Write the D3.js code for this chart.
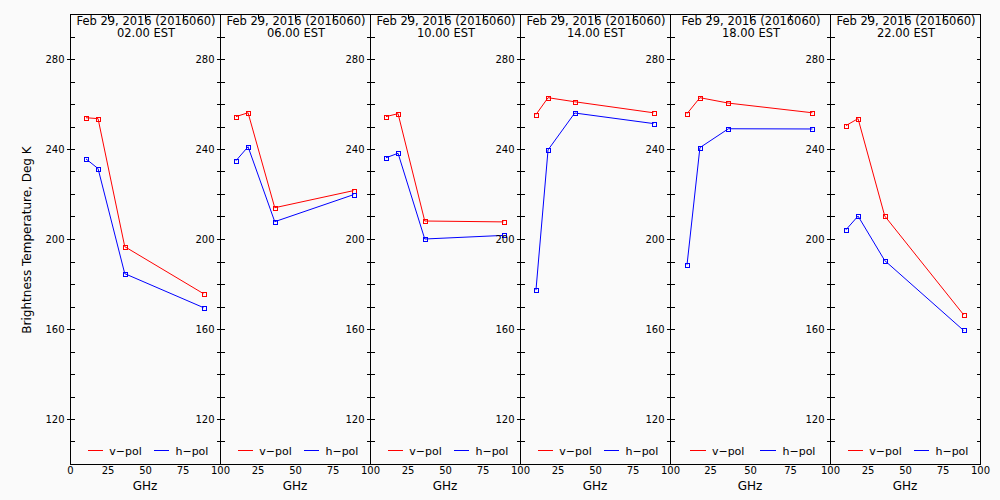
<!DOCTYPE html>
<html><head><meta charset="utf-8">
<script src="https://cdn.jsdelivr.net/npm/d3@7"></script>
<style>
html,body{margin:0;padding:0;background:#fafafa;}
svg{display:block;}
text{font-family:"DejaVu Sans",sans-serif;fill:#000;}
</style></head>
<body><svg id="c" width="1000" height="500"></svg>
<script>
// ---- data ----
const freqs = [10.65, 18.7, 36.5, 89.0];
const dateLabel = "Feb 29, 2016 (2016060)";
const times = ["02.00 EST", "06.00 EST", "10.00 EST", "14.00 EST", "18.00 EST", "22.00 EST"];
const vpol = [
  [253.9, 253.5, 196.6, 175.7],
  [254.4, 256.1, 213.9, 221.5],
  [254.4, 255.7, 208.0, 207.6],
  [255.3, 262.8, 261.0, 256.1],
  [255.7, 262.8, 260.4, 256.1],
  [250.4, 253.5, 210.2, 166.4]
];
const hpol = [
  [235.6, 231.3, 184.6, 169.5],
  [234.8, 241.0, 207.7, 219.7],
  [236.1, 238.1, 200.0, 201.6],
  [177.3, 239.6, 256.0, 251.3],
  [188.6, 240.6, 249.0, 248.9],
  [204.1, 210.2, 190.4, 159.4]
];
const yMajorTicks = [120, 160, 200, 240, 280];
const xTicks = [0, 25, 50, 75, 100];
const seriesNames = ["v-pol", "h-pol"];
const seriesColors = ["#ff0000", "#0000ff"];

// ---- layout ----
const edges = [70, 220, 370, 520, 670, 830, 980];
const plotTop = 14, plotBottom = 464;
const svg = d3.select("#c");
svg.append("rect").attr("width", 1000).attr("height", 500).attr("fill", "#fafafa");

const y = d3.scaleLinear().domain([100, 300]).range([plotBottom, plotTop]);
const yMinor = d3.range(110, 300, 10);

times.forEach((t, i) => {
  const x0 = edges[i], x1 = edges[i + 1], w = x1 - x0;
  const x = d3.scaleLinear().domain([0, 100]).range([x0, x1]);
  const g = svg.append("g");

  // frame
  g.append("rect").attr("x", x0 + 0.5).attr("y", plotTop + 0.5).attr("width", w).attr("height", plotBottom - plotTop)
    .attr("fill", "none").attr("stroke", "#000").attr("stroke-width", 1).attr("shape-rendering", "crispEdges");

  // left axis
  const left = d3.axisLeft(y).tickValues(yMajorTicks).tickSize(4).tickPadding(2).tickSizeOuter(0);
  const ga = g.append("g").attr("transform", `translate(${x0 + 0.5},0)`).call(left);
  ga.select(".domain").remove();
  ga.selectAll(".tick line").attr("x2", -4).attr("x1", 4).attr("shape-rendering", "crispEdges");
  ga.selectAll("text").attr("font-size", 10).style("font-family", "DejaVu Sans");
  // minor ticks left (inside)
  g.selectAll(".mnl").data(yMinor.filter(v => !yMajorTicks.includes(v))).enter().append("line")
    .attr("x1", x0 + 0.5).attr("x2", x0 + 4.5).attr("y1", d => Math.round(y(d)) + 0.5).attr("y2", d => Math.round(y(d)) + 0.5)
    .attr("stroke", "#000").attr("shape-rendering", "crispEdges");
  // right ticks (inside)
  g.selectAll(".mnr").data(yMinor).enter().append("line")
    .attr("x1", x1 + 0.5).attr("x2", x1 - 3.5).attr("y1", d => Math.round(y(d)) + 0.5).attr("y2", d => Math.round(y(d)) + 0.5)
    .attr("stroke", "#000").attr("shape-rendering", "crispEdges");

  // top ticks (inside)
  g.selectAll(".tt").data(xTicks.slice(1, -1)).enter().append("line")
    .attr("x1", d => Math.round(x(d)) + 0.5).attr("x2", d => Math.round(x(d)) + 0.5)
    .attr("y1", plotTop).attr("y2", plotTop + 5).attr("stroke", "#000").attr("shape-rendering", "crispEdges");

  // bottom axis labels
  const bx = d3.axisBottom(x).tickValues(i === 0 ? xTicks : xTicks.slice(1)).tickSize(0).tickPadding(3);
  const gb = g.append("g").attr("transform", `translate(0,${plotBottom})`).call(bx);
  gb.select(".domain").remove();
  gb.selectAll("text").attr("font-size", 10).style("font-family", "DejaVu Sans");

  g.append("text").attr("x", (x0 + x1) / 2).attr("y", 490).attr("text-anchor", "middle")
    .attr("font-size", 12).text("GHz");

  // titles
  g.append("text").attr("x", (x0 + x1) / 2 + 1).attr("y", 25).attr("text-anchor", "middle")
    .attr("font-size", 11.5).text(dateLabel);
  g.append("text").attr("x", (x0 + x1) / 2 + 1).attr("y", 37).attr("text-anchor", "middle")
    .attr("font-size", 11.5).text(t);

  // series
  [vpol[i], hpol[i]].forEach((vals, s) => {
    const pts = freqs.map((f, k) => [x(f), y(vals[k])]);
    g.append("path").attr("d", d3.line()(pts)).attr("fill", "none")
      .attr("stroke", seriesColors[s]).attr("stroke-width", 1);
    g.selectAll(".m" + s).data(pts).enter().append("rect")
      .attr("x", d => Math.round(d[0]) - 2 + 0.5).attr("y", d => Math.round(d[1]) - 2 + 0.5)
      .attr("width", 4).attr("height", 4).attr("fill", "none")
      .attr("stroke", seriesColors[s]).attr("stroke-width", 1).attr("shape-rendering", "crispEdges");
  });

  // legend
  const ly = 450.5;
  const legendPos = [[0.122, 0.222, 0.262], [0.56, 0.66, 0.703]];
  seriesNames.forEach((n, s) => {
    const p = legendPos[s];
    g.append("line").attr("x1", x0 + p[0] * w).attr("x2", x0 + p[1] * w).attr("y1", ly).attr("y2", ly)
      .attr("stroke", seriesColors[s]).attr("stroke-width", 1).attr("shape-rendering", "crispEdges");
    g.append("text").attr("x", x0 + p[2] * w).attr("y", ly + 4).attr("font-size", 11).text(n.replace("-", "\u2212"));
  });
});

// y-axis label
svg.append("text").attr("transform", "translate(31,240) rotate(-90)").attr("text-anchor", "middle")
  .attr("font-size", 12).text("Brightness Temperature, Deg K");
</script></body></html>
